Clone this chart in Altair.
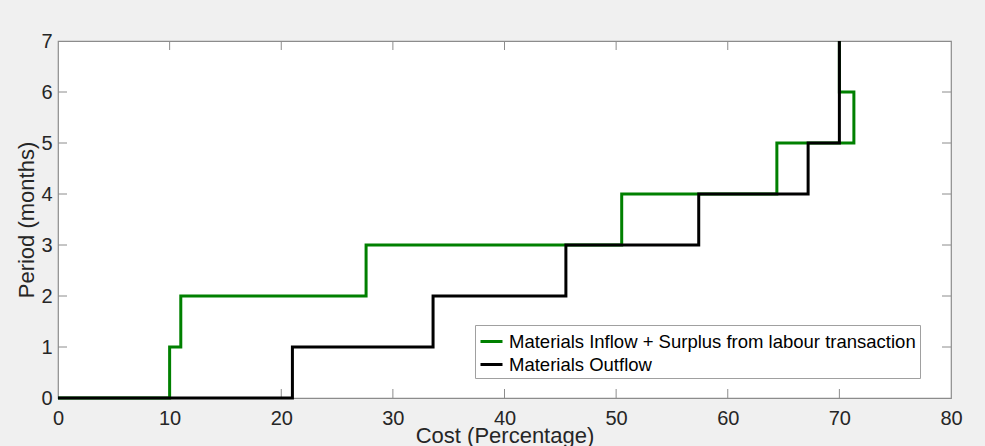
import altair as alt
import pandas as pd

# Series data
inflow_name = "Materials Inflow + Surplus from labour transaction"
outflow_name = "Materials Outflow"

inflow_cost = [0, 10, 10, 11, 11, 27.6, 27.6, 50.5, 50.5, 64.4, 64.4, 71.3, 71.3, 70, 70]
inflow_period = [0, 0, 1, 1, 2, 2, 3, 3, 4, 4, 5, 5, 6, 6, 7]

outflow_cost = [0, 21, 21, 33.6, 33.6, 45.5, 45.5, 57.4, 57.4, 67.2, 67.2, 70, 70]
outflow_period = [0, 0, 1, 1, 2, 2, 3, 3, 4, 4, 5, 5, 7]

x_ticks = [0, 10, 20, 30, 40, 50, 60, 70, 80]
y_ticks = [0, 1, 2, 3, 4, 5, 6, 7]
x_inner_ticks = [10, 20, 30, 40, 50, 60, 70]
y_inner_ticks = [1, 2, 3, 4, 5, 6]

W, H = 893, 357
TICK = 9
FONT = "Liberation Sans"
FRAME = "#8c8c8c"
TEXT = "#262626"

df_in = pd.DataFrame({"cost": inflow_cost, "period": inflow_period,
                      "series": inflow_name, "i": range(len(inflow_cost))})
df_out = pd.DataFrame({"cost": outflow_cost, "period": outflow_period,
                       "series": outflow_name, "i": range(len(outflow_cost))})

xscale = alt.Scale(domain=[0, 80], nice=False, zero=False)
yscale = alt.Scale(domain=[0, 7], nice=False, zero=False)
cscale = alt.Scale(domain=[inflow_name, outflow_name], range=["#008000", "#000000"])

xaxis = alt.Axis(values=x_ticks, title="Cost (Percentage)", domain=False, ticks=False,
                 grid=False, labelPadding=10, labelFontSize=20, titleFontSize=22,
                 titleFontWeight="normal", labelColor=TEXT, titleColor=TEXT,
                 labelFont=FONT, titleFont=FONT, labelFlush=False, labelOverlap=False,
                 titleY=44, titleBaseline="alphabetic", titleX=W / 2, titleAlign="center")
yaxis = alt.Axis(values=y_ticks, title="Period (months)", domain=False, ticks=False,
                 grid=False, labelPadding=6, labelFontSize=20, titleFontSize=22,
                 titleFontWeight="normal", labelColor=TEXT, titleColor=TEXT,
                 labelFont=FONT, titleFont=FONT, labelFlush=False, labelOverlap=False,
                 titleX=-25, titleY=H / 2, titleAngle=270, titleBaseline="alphabetic",
                 titleAlign="center")

legend = alt.Legend(title=None, orient="none", legendX=417, legendY=284,
                    fillColor="white", strokeColor="#a0a0a0", padding=4,
                    labelFontSize=18.5, labelFont=FONT, labelColor="#000000",
                    symbolType="stroke", symbolSize=484, symbolStrokeWidth=3,
                    labelOffset=5, rowPadding=1, labelLimit=800)

def line(df):
    return alt.Chart(df).mark_line(strokeWidth=3, interpolate="linear").encode(
        x=alt.X("cost:Q", scale=xscale, axis=xaxis),
        y=alt.Y("period:Q", scale=yscale, axis=yaxis),
        color=alt.Color("series:N", scale=cscale, legend=legend),
        order=alt.Order("i:Q"),
    )

xt = pd.DataFrame({"v": x_inner_ticks})
yt = pd.DataFrame({"v": y_inner_ticks})
rule_style = dict(color=FRAME, strokeWidth=1)

bottom_ticks = alt.Chart(xt).mark_rule(**rule_style).encode(
    x=alt.X("v:Q", scale=xscale), y=alt.value(H), y2=alt.value(H - TICK))
top_ticks = alt.Chart(xt).mark_rule(**rule_style).encode(
    x=alt.X("v:Q", scale=xscale), y=alt.value(0), y2=alt.value(TICK))
left_ticks = alt.Chart(yt).mark_rule(**rule_style).encode(
    y=alt.Y("v:Q", scale=yscale), x=alt.value(0), x2=alt.value(TICK))
right_ticks = alt.Chart(yt).mark_rule(**rule_style).encode(
    y=alt.Y("v:Q", scale=yscale), x=alt.value(W), x2=alt.value(W - TICK))

chart = alt.layer(
    bottom_ticks, top_ticks, left_ticks, right_ticks, line(df_in), line(df_out)
).properties(
    width=W, height=H,
    autosize=alt.AutoSizeParams(type="none"),
    padding={"left": 58, "top": 41, "right": 34, "bottom": 48},
    background="#f0f0f0",
).configure_view(
    fill="white", stroke=FRAME, strokeWidth=1.2
)

chart.save("out.html", embed_options={"renderer": "svg", "actions": False})
